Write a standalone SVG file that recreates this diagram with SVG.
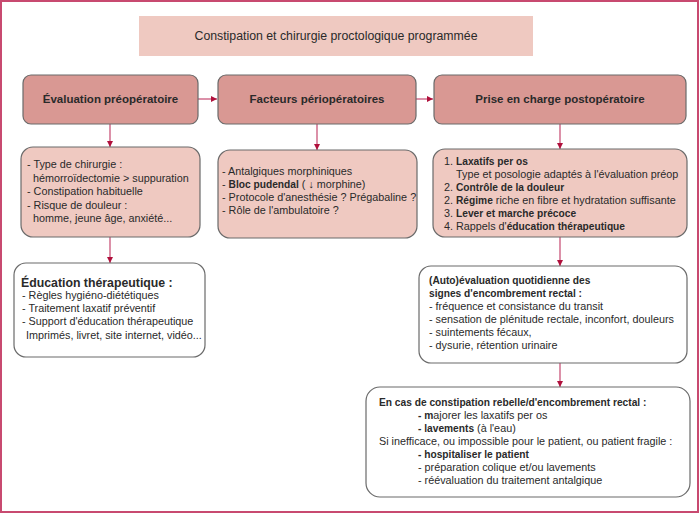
<svg xmlns="http://www.w3.org/2000/svg" width="700" height="513" viewBox="0 0 700 513">
<defs>
<style>
text{font-family:"Liberation Sans","DejaVu Sans",sans-serif;fill:#2a2a2a;}
.t{font-size:10.8px;}
.b{font-weight:bold;font-size:10.2px;}
.h{font-size:11.5px;font-weight:bold;}
.hdr{fill:#d99893;stroke:#6a6a6a;stroke-width:1.2;}
.pk{fill:#efc9c1;stroke:#6a6a6a;stroke-width:1.2;}
.wh{fill:#ffffff;stroke:#6a6a6a;stroke-width:1.2;}
.c{stroke:#c9557a;stroke-width:1.3;fill:none;marker-end:url(#ah);}
</style>
<marker id="ah" viewBox="0 0 6 6" refX="6" refY="3" markerWidth="6" markerHeight="6" markerUnits="userSpaceOnUse" orient="auto">
<path d="M0,0 L6,3 L0,6 Z" fill="#b0103c"/>
</marker>
</defs>
<rect x="0" y="0" width="700" height="513" fill="#ffffff"/>
<rect x="1" y="1" width="697" height="511" fill="none" stroke="#c84a70" stroke-width="2"/>

<g id="title">
<rect x="139" y="16" width="394" height="40" fill="#efc9c1"/>
<text x="336" y="40" text-anchor="middle" style="font-size:12.3px">Constipation et chirurgie proctologique programmée</text>
</g>

<g id="connectors">
<line class="c" x1="198" y1="99" x2="217" y2="99"/>
<line class="c" x1="416" y1="99" x2="433" y2="99"/>
<line class="c" x1="110" y1="124" x2="110" y2="147"/>
<line class="c" x1="317" y1="124" x2="317" y2="150"/>
<line class="c" x1="560" y1="124" x2="560" y2="149"/>
<line class="c" x1="110" y1="237" x2="110" y2="263"/>
<line class="c" x1="560" y1="237" x2="560" y2="266"/>
<line class="c" x1="560" y1="363" x2="560" y2="387"/>
</g>

<g id="eval-preop">
<rect class="hdr" x="23" y="75" width="175" height="49" rx="8"/>
<text class="h" x="110.5" y="103" text-anchor="middle">Évaluation préopératoire</text>
</g>
<g id="facteurs-periop">
<rect class="hdr" x="218" y="75" width="198" height="49" rx="8"/>
<text class="h" x="317" y="103" text-anchor="middle">Facteurs périopératoires</text>
</g>
<g id="prise-en-charge">
<rect class="hdr" x="434" y="75" width="252" height="49" rx="8"/>
<text class="h" x="560" y="103" text-anchor="middle">Prise en charge postopératoire</text>
</g>

<g id="preop-details">
<rect class="pk" x="21" y="147" width="179" height="90" rx="12"/>
<text class="t" x="27" y="168">- Type de chirurgie :</text>
<text class="t" x="33" y="181.5">hémorroïdectomie &gt; suppuration</text>
<text class="t" x="27" y="195">- Constipation habituelle</text>
<text class="t" x="27" y="208.5">- Risque de douleur :</text>
<text class="t" x="33" y="222">homme, jeune âge, anxiété...</text>
</g>

<g id="periop-details">
<rect class="pk" x="218" y="150" width="199" height="88" rx="12"/>
<text class="t" x="222" y="175">- Antalgiques morphiniques</text>
<text class="t" x="222" y="188">- <tspan class="b">Bloc pudendal</tspan> ( ↓ morphine)</text>
<text class="t" x="222" y="201">- Protocole d'anesthésie ? Prégabaline ?</text>
<text class="t" x="222" y="214">- Rôle de l'ambulatoire ?</text>
</g>

<g id="postop-details">
<rect class="pk" x="433" y="149" width="254" height="88" rx="12"/>
<text class="t" x="444" y="165">1. <tspan class="b">Laxatifs per os</tspan></text>
<text class="t" x="456" y="178">Type et posologie adaptés à l'évaluation préop</text>
<text class="t" x="444" y="191">2. <tspan class="b">Contrôle de la douleur</tspan></text>
<text class="t" x="444" y="204">2. <tspan class="b">Régime</tspan> riche en fibre et hydratation suffisante</text>
<text class="t" x="444" y="217">3. <tspan class="b">Lever et marche précoce</tspan></text>
<text class="t" x="444" y="230">4. Rappels d'<tspan class="b">éducation thérapeutique</tspan></text>
</g>

<g id="education">
<rect class="wh" x="14" y="263" width="191" height="94" rx="12"/>
<text x="21" y="287" style="font-size:12.3px;font-weight:bold">Éducation thérapeutique :</text>
<text class="t" x="22" y="299">- Règles hygiéno-diététiques</text>
<text class="t" x="22" y="312">- Traitement laxatif préventif</text>
<text class="t" x="22" y="325">- Support d'éducation thérapeutique</text>
<text class="t" x="26" y="339">Imprimés, livret, site internet, vidéo...</text>
</g>

<g id="autoevaluation">
<rect class="wh" x="419" y="266" width="268" height="97" rx="12"/>
<text class="b" x="429" y="284">(Auto)évaluation quotidienne des</text>
<text class="b" x="429" y="297">signes d'encombrement rectal :</text>
<text class="t" x="429" y="310">- fréquence et consistance du transit</text>
<text class="t" x="429" y="323">- sensation de plénitude rectale, inconfort, douleurs</text>
<text class="t" x="429" y="336">- suintements fécaux,</text>
<text class="t" x="429" y="349">- dysurie, rétention urinaire</text>
</g>

<g id="constipation-rebelle">
<rect class="wh" x="366" y="387" width="324" height="110" rx="14"/>
<text class="b" x="379" y="406">En cas de constipation rebelle/d'encombrement rectal :</text>
<text class="t" x="418" y="419"><tspan class="b">- m</tspan>ajorer les laxatifs per os</text>
<text class="t" x="418" y="432"><tspan class="b">- lavements</tspan> (à l'eau)</text>
<text class="t" x="379" y="445">Si inefficace, ou impossible pour le patient, ou patient fragile :</text>
<text class="b" x="418" y="458">- hospitaliser le patient</text>
<text class="t" x="418" y="471">- préparation colique et/ou lavements</text>
<text class="t" x="418" y="484">- réévaluation du traitement antalgique</text>
</g>
</svg>
